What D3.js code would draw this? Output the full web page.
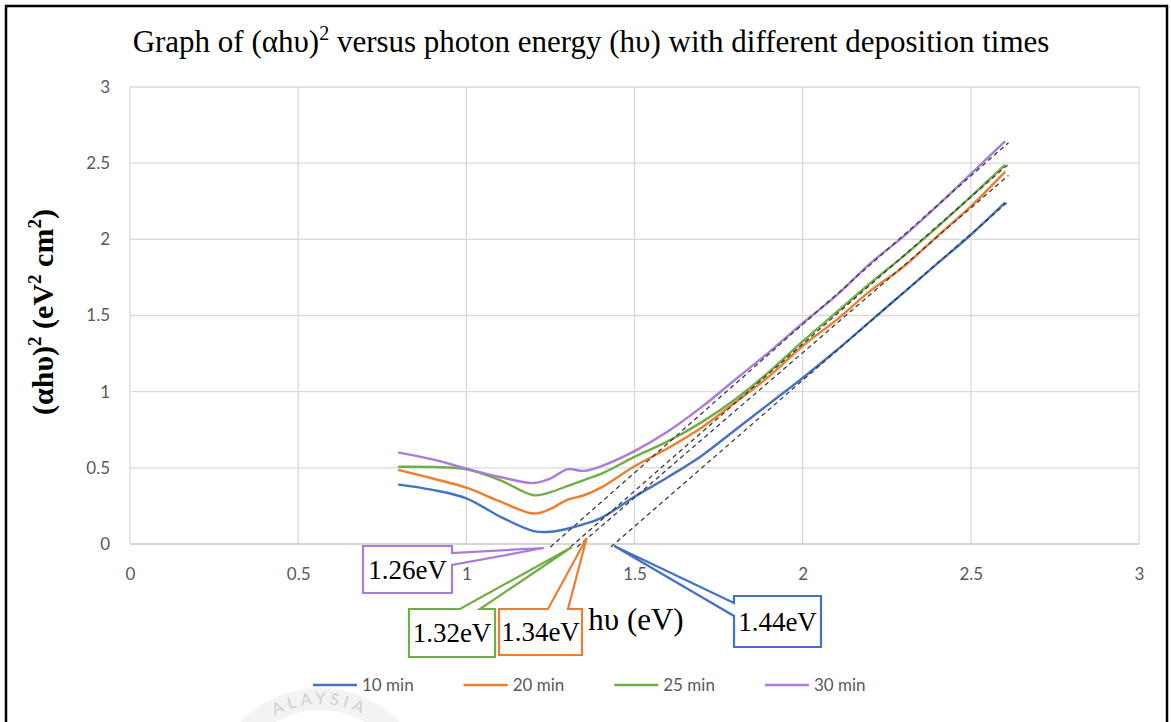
<!DOCTYPE html>
<html><head><meta charset="utf-8">
<script src="https://cdn.jsdelivr.net/npm/d3@7"></script>
<style>body{margin:0;background:#fff;overflow:hidden} svg{display:block}</style>
</head><body><svg id="c" width="1171" height="722"></svg>
<script>
// ---- data ----
const xValues   = [0.8, 0.9, 1.0, 1.1, 1.2, 1.25, 1.3, 1.35, 1.4, 1.5, 1.6, 1.7, 1.8, 1.9, 2.0, 2.1, 2.2, 2.3, 2.4, 2.5, 2.6];
const min10     = [0.39, 0.355, 0.30, 0.18, 0.085, 0.08, 0.10, 0.13, 0.17, 0.31, 0.44, 0.58, 0.75, 0.92, 1.09, 1.27, 1.46, 1.65, 1.84, 2.03, 2.238];
const min20     = [0.485, 0.43, 0.37, 0.28, 0.20, 0.23, 0.29, 0.32, 0.37, 0.51, 0.63, 0.765, 0.93, 1.10, 1.30, 1.47, 1.66, 1.82, 2.02, 2.216, 2.44];
const min25     = [0.507, 0.505, 0.49, 0.42, 0.32, 0.34, 0.38, 0.42, 0.46, 0.572, 0.675, 0.80, 0.95, 1.13, 1.33, 1.52, 1.71, 1.89, 2.08, 2.28, 2.485];
const min30     = [0.60, 0.555, 0.495, 0.44, 0.40, 0.43, 0.49, 0.48, 0.51, 0.61, 0.74, 0.90, 1.08, 1.26, 1.45, 1.63, 1.84, 2.02, 2.22, 2.43, 2.64];
const seriesNames  = ["10 min", "20 min", "25 min", "30 min"];
const bandGaps     = [1.44, 1.34, 1.32, 1.26];          // x-intercepts of the fitted lines (eV)
const fitEndY      = [2.24, 2.41, 2.485, 2.625];        // fitted line value at x = fitEndX
const fitEndX      = 2.607;
const gapLabels    = ["1.44eV", "1.34eV", "1.32eV", "1.26eV"];
const xTicks = [0, 0.5, 1, 1.5, 2, 2.5, 3];
const yTicks = [0, 0.5, 1, 1.5, 2, 2.5, 3];

const seriesValues = [min10, min20, min25, min30];
const colors = ["#4472C4", "#ED7D31", "#70AD47", "#A97BDB"];

const svg = d3.select("#c");
const x = d3.scaleLinear([0, 3], [130, 1139]);
const y = d3.scaleLinear([0, 3], [544, 87]);
const serif = "'Liberation Serif','Times New Roman',serif";
const sans = "Lato,'Open Sans',sans-serif";

svg.append("rect").attr("width", 1171).attr("height", 722).attr("fill", "#fff");

// watermark (faint, at the bottom edge)
const wm = svg.append("g");
wm.append("circle").attr("cx", 320).attr("cy", 798).attr("r", 99)
  .attr("fill", "none").attr("stroke", "#f3f3f3").attr("stroke-width", 22);
wm.append("path").attr("id", "wmArc")
  .attr("d", "M 226 798 A 94 94 0 0 1 414 798").attr("fill", "none");
wm.append("text").attr("font-family", sans).attr("font-size", 16).attr("fill", "#cfcfcf")
  .attr("letter-spacing", 4.5)
  .append("textPath").attr("href", "#wmArc").attr("startOffset", "50%").attr("text-anchor", "middle")
  .text("ALAYSIA");

// border
svg.append("rect").attr("x", 6).attr("y", 6).attr("width", 1161).attr("height", 740)
  .attr("fill", "none").attr("stroke", "#000").attr("stroke-width", 2.5);

// title
const title = svg.append("text").attr("x", 591).attr("y", 52).attr("text-anchor", "middle")
  .attr("font-family", serif).attr("font-size", 31).attr("fill", "#000");
title.append("tspan").text("Graph of (αhυ)");
title.append("tspan").attr("font-size", 20).attr("dy", -12).text("2");
title.append("tspan").attr("dy", 12).text(" versus photon energy (hυ) with different deposition times");

// grid
const grid = svg.append("g");
grid.selectAll("line.v").data(xTicks).join("line")
  .attr("x1", d => x(d)).attr("x2", d => x(d)).attr("y1", y(0)).attr("y2", y(3))
  .attr("stroke", "#d9d9d9").attr("stroke-width", 1.3);
grid.selectAll("line.h").data(yTicks).join("line")
  .attr("x1", x(0)).attr("x2", x(3)).attr("y1", d => y(d)).attr("y2", d => y(d))
  .attr("stroke", d => d === 0 ? "#c8c8c8" : "#d9d9d9").attr("stroke-width", 1.3);

// axes tick labels
const fmt = d3.format("");
const ax = svg.append("g").attr("transform", `translate(0,${y(0)})`)
  .call(d3.axisBottom(x).tickValues(xTicks).tickFormat(fmt).tickSize(0).tickPadding(24));
const ay = svg.append("g").attr("transform", `translate(${x(0)},0)`)
  .call(d3.axisLeft(y).tickValues(yTicks).tickFormat(fmt).tickSize(0).tickPadding(20));
[ax, ay].forEach(g => {
  g.select(".domain").remove();
  g.selectAll("text").attr("font-family", sans).attr("font-size", 17).attr("fill", "#595959");
});

// axis titles
const yt = svg.append("text").attr("transform", "translate(53,312) rotate(-90)")
  .attr("text-anchor", "middle").attr("font-family", serif).attr("font-size", 30)
  .attr("font-weight", "bold").attr("fill", "#000");
yt.append("tspan").text("(αhυ)");
yt.append("tspan").attr("font-size", 19).attr("dy", -12).text("2");
yt.append("tspan").attr("dy", 12).text(" (eV");
yt.append("tspan").attr("font-size", 19).attr("dy", -12).text("2");
yt.append("tspan").attr("dy", 12).text(" cm");
yt.append("tspan").attr("font-size", 19).attr("dy", -12).text("2");
yt.append("tspan").attr("dy", 12).text(")");

svg.append("text").attr("x", 636).attr("y", 630).attr("text-anchor", "middle")
  .attr("font-family", serif).attr("font-size", 31).attr("fill", "#000").text("hυ (eV)");

// series
const line = d3.line().x(d => x(d[0])).y(d => y(d[1])).curve(d3.curveCatmullRom.alpha(0.5));
seriesValues.forEach((vals, i) => {
  svg.append("path").datum(xValues.map((xv, j) => [xv, vals[j]]))
    .attr("d", line).attr("fill", "none").attr("stroke", colors[i])
    .attr("stroke-width", 2.4).attr("stroke-linecap", "round");
});

// fitted (dashed) lines
const straight = d3.line().x(d => x(d[0])).y(d => y(d[1]));
bandGaps.forEach((g, i) => {
  const slope = fitEndY[i] / (fitEndX - g);
  const y0 = -0.02;
  svg.append("path").datum([[g + y0 / slope, y0], [fitEndX + 0.005, fitEndY[i] + 0.005 * slope]])
    .attr("d", straight).attr("fill", "none").attr("stroke", "#3a3a3a")
    .attr("stroke-width", 1.3).attr("stroke-dasharray", "4.5,3.5");
});

// callouts (layout in pixels; tip anchored on the band-gap intercept)
const callouts = [
  { i: 0, box: [734, 596, 821, 647], side: "left",  base: [603, 616], tip: [0, 2] },
  { i: 1, box: [499, 609, 582, 655], side: "top",   base: [548, 568], tip: [6, -6] },
  { i: 2, box: [409, 609, 495, 657], side: "top",   base: [460, 480], tip: [-2, 3] },
  { i: 3, box: [363, 546, 452, 593], side: "right", base: [553, 565], tip: [-10, 4] }
];
callouts.forEach(c => {
  const [x0, y0, x1, y1] = c.box;
  const tx = x(bandGaps[c.i]) + c.tip[0], ty = y(0) + c.tip[1];
  let pts;
  if (c.side === "top") pts = [[x0, y0], [c.base[0], y0], [tx, ty], [c.base[1], y0], [x1, y0], [x1, y1], [x0, y1]];
  else if (c.side === "right") pts = [[x0, y0], [x1, y0], [x1, c.base[0]], [tx, ty], [x1, c.base[1]], [x1, y1], [x0, y1]];
  else pts = [[x0, y0], [x1, y0], [x1, y1], [x0, y1], [x0, c.base[1]], [tx, ty], [x0, c.base[0]]];
  svg.append("path").attr("d", "M" + pts.map(p => p.join(",")).join("L") + "Z")
    .attr("fill", "#fff").attr("stroke", colors[c.i]).attr("stroke-width", 2.2)
    .attr("stroke-linejoin", "miter");
  svg.append("text").attr("x", (x0 + x1) / 2).attr("y", (y0 + y1) / 2 + 9)
    .attr("text-anchor", "middle").attr("font-family", serif).attr("font-size", 27)
    .attr("fill", "#000").text(gapLabels[c.i]);
});

// legend
const lg = svg.append("g").attr("transform", "translate(313,685)");
let lx = 0;
seriesNames.forEach((n, i) => {
  const g = lg.append("g").attr("transform", `translate(${lx},0)`);
  g.append("line").attr("x1", 0).attr("x2", 44).attr("stroke", colors[i]).attr("stroke-width", 2.4);
  const t = g.append("text").attr("x", 49).attr("y", 6).attr("font-family", sans)
    .attr("font-size", 17).attr("fill", "#595959").text(n);
  lx += 49 + t.node().getComputedTextLength() + 50;
});
</script></body></html>
